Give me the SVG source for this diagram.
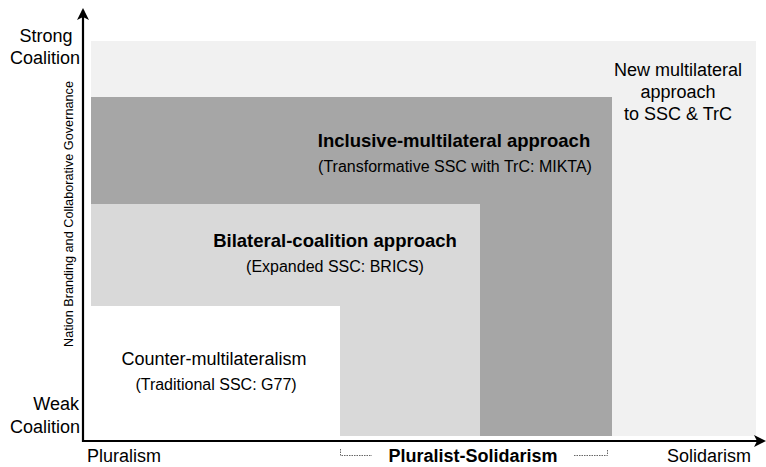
<svg xmlns="http://www.w3.org/2000/svg" width="766" height="467" viewBox="0 0 766 467">
  <style>
    text { font-family: "Liberation Sans", Arial, sans-serif; fill: #000; }
    .lbl { font-size: 18px; }
    .title { font-size: 18.5px; font-weight: bold; text-anchor: middle; }
    .sub { font-size: 16px; text-anchor: middle; }
    .axis { stroke: #000; stroke-width: 2.2; fill: none; }
    .brace { stroke: #666666; stroke-width: 1; stroke-dasharray: 1.5 1; fill: none; }
  </style>
  <defs>
    <marker id="arrow" viewBox="0 0 12 12" refX="10" refY="6" markerWidth="12" markerHeight="12" markerUnits="userSpaceOnUse" orient="auto">
      <path d="M0,0 L12,6 L0,12 L3,6 Z" fill="#000"/>
    </marker>
  </defs>
  <rect width="766" height="467" fill="#ffffff"/>

  <!-- nested approach regions -->
  <g id="region-new">
    <rect x="91" y="41" width="665" height="395" fill="#f1f1f1"/>
    <text class="lbl" x="678" y="76" text-anchor="middle">New multilateral</text>
    <text class="lbl" x="678" y="98" text-anchor="middle">approach</text>
    <text class="lbl" x="678" y="120" text-anchor="middle">to SSC &amp; TrC</text>
  </g>
  <g id="region-inclusive">
    <rect x="91" y="97" width="521" height="339" fill="#a6a6a6"/>
    <text class="title" x="454" y="147">Inclusive-multilateral approach</text>
    <text class="sub" x="455" y="172">(Transformative SSC with TrC: MIKTA)</text>
  </g>
  <g id="region-bilateral">
    <rect x="91" y="204" width="389" height="232" fill="#d9d9d9"/>
    <text class="title" x="335" y="247">Bilateral-coalition approach</text>
    <text class="sub" x="335" y="272">(Expanded SSC: BRICS)</text>
  </g>
  <g id="region-counter">
    <rect x="91" y="306" width="249" height="130" fill="#ffffff"/>
    <text class="lbl" x="214" y="365" text-anchor="middle">Counter-multilateralism</text>
    <text class="sub" x="216" y="390">(Traditional SSC: G77)</text>
  </g>

  <!-- axes -->
  <g id="connectors">
    <line class="axis" x1="83" y1="442" x2="83" y2="10" marker-end="url(#arrow)"/>
    <line class="axis" x1="82" y1="441" x2="764" y2="441" marker-end="url(#arrow)"/>
    <path class="brace" d="M340.5,449 V455.5 H372"/>
    <path class="brace" d="M574,455.5 H607.5 V449"/>
  </g>

  <!-- axis labels -->
  <g id="axis-labels">
    <text class="lbl" x="46" y="42" text-anchor="middle">Strong</text>
    <text class="lbl" x="80" y="64" text-anchor="end">Coalition</text>
    <text class="lbl" x="79" y="410" text-anchor="end">Weak</text>
    <text class="lbl" x="80" y="433" text-anchor="end">Coalition</text>
    <text class="lbl" x="87" y="462">Pluralism</text>
    <text class="lbl" x="473" y="462" text-anchor="middle" font-weight="bold">Pluralist-Solidarism</text>
    <text class="lbl" x="667" y="462">Solidarism</text>
    <text x="73" y="214" font-size="12.7" text-anchor="middle" transform="rotate(-90 73 214)">Nation Branding and Collaborative Governance</text>
  </g>
</svg>
